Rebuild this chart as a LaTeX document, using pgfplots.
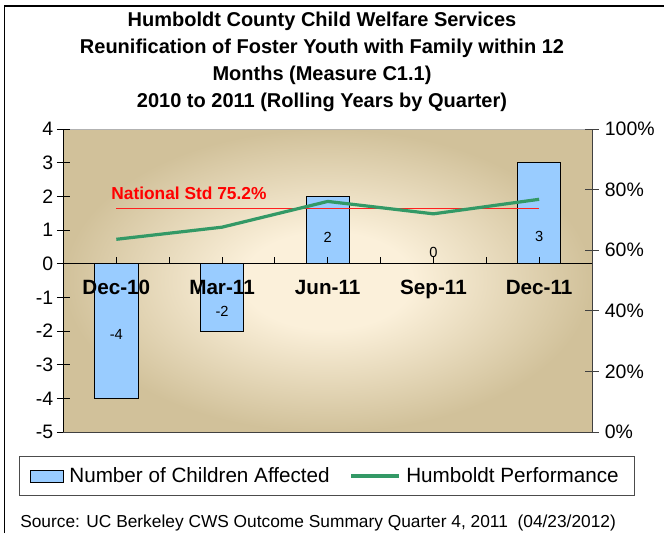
\documentclass[border=0pt]{standalone}
\usepackage{pgfplots}
\pgfplotsset{compat=1.18}
\usepackage{fontspec}
\setmainfont{Liberation Sans}
\definecolor{barblue}{HTML}{99CCFF}
\definecolor{humgreen}{HTML}{339966}
\definecolor{bgin}{HTML}{FBF0DA}
\definecolor{bgout}{HTML}{D1C19A}
\definecolor{axgray}{HTML}{404040}
\definecolor{stdred}{HTML}{FF2020}
\pgfdeclareradialshading{bgshade}{\pgfpoint{0bp}{0bp}}{color(0bp)=(bgin); color(8bp)=(bgin); color(25bp)=(bgout); color(50bp)=(bgout)}
\begin{document}
\begin{tikzpicture}
\path[use as bounding box] (0,0) rectangle (498pt,399.75pt);
\draw[black, line width=0.8pt] (3.4pt,0pt) -- (3.4pt,395.25pt) -- (498pt,395.25pt);
\node[align=center, font=\bfseries\fontsize{15}{20.25}\selectfont] at (241.5pt,353.5pt)
 {Humboldt County Child Welfare Services\\Reunification of Foster Youth with Family within 12\\Months (Measure C1.1)\\2010 to 2011 (Rolling Years by Quarter)};
\node[anchor=base west, font=\fontsize{13}{14}\selectfont, inner sep=0pt] at (15pt,4.5pt)
 {Source: UC Berkeley CWS Outcome Summary Quarter 4, 2011\ \ (04/23/2012)};
% primary axis: bars
\begin{axis}[
  at={(47.6pt,75.75pt)}, anchor=south west,
  scale only axis, width=396.4pt, height=227.25pt,
  xmin=-0.5, xmax=4.5, ymin=-5, ymax=4,
  axis on top,
  axis x line=middle, axis y line=left,
  axis line style={-, black, line width=0.7pt},
  hide obscured x ticks=false, hide obscured y ticks=false,
  ytick={-5,-4,...,4},
  ytick align=center,
  ytick style={black, line width=0.7pt, /pgfplots/major tick length=10pt},
  xtick={0.5,1.5,2.5,3.5}, xticklabels={},
  xtick align=inside,
  xtick style={black, line width=0.7pt, /pgfplots/major tick length=5pt},
  extra x ticks={0,1,2,3,4},
  extra x tick labels={Dec-10,Mar-11,Jun-11,Sep-11,Dec-11},
  extra x tick style={major tick length=0pt, xticklabel style={font=\bfseries\fontsize{15.5}{17}\selectfont, yshift=-9pt}},
  /pgf/number format/assume math mode=true,
  yticklabel style={font=\fontsize{14.6}{16}\selectfont, xshift=-2pt},
  axis background/.style={shading=bgshade, draw=gray!60},
  clip=false,
]
\addplot[ybar, bar width=0.41, fill=barblue, draw=black, line width=0.6pt]
  coordinates {(0,-4) (1,-2) (2,2) (3,0) (4,3)};
\addplot[only marks, mark=none, nodes near coords, point meta=explicit symbolic,
  nodes near coords align={center},
  every node near coord/.append style={anchor=center, font=\fontsize{11}{12}\selectfont}]
  coordinates {(0,-2.11)[-4] (1,-1.43)[-2] (2,0.78)[2] (3,0.33)[0] (4,0.80)[3]};
\end{axis}
% secondary axis: percentage line
\begin{axis}[
  at={(47.6pt,75.75pt)}, anchor=south west,
  scale only axis, width=396.4pt, height=227.25pt,
  xmin=-0.5, xmax=4.5, ymin=0, ymax=100,
  axis y line*=right, axis x line*=bottom,
  axis line style={-, axgray, line width=0.7pt},
  xtick=\empty,
  ytick={0,20,...,100},
  yticklabel={\pgfmathprintnumber{\tick}\%},
  ytick align=center,
  ytick style={axgray, line width=0.7pt, /pgfplots/major tick length=10pt},
  /pgf/number format/assume math mode=true,
  yticklabel style={font=\fontsize{14.6}{16}\selectfont, xshift=4pt},
  clip=false,
  legend columns=2,
  legend style={at={(0.4986,-0.1452)}, anchor=center, draw=black!70, line width=0.6pt,
    font=\fontsize{15.5}{17}\selectfont, inner xsep=8pt, inner ysep=6pt,
    nodes={inner xsep=4pt},
    /tikz/every even column/.append style={column sep=11pt}},
  legend cell align=left,
]
\addlegendimage{legend image code/.code={\draw[fill=barblue, draw=black, line width=0.6pt] (0pt,-4.5pt) rectangle (25pt,4.5pt);}}
\addlegendentry{Number of Children Affected}
\addplot[stdred, line width=0.8pt, forget plot] coordinates {(0,73.9) (4,73.9)};
\addplot[only marks, mark=none, forget plot, nodes near coords, point meta=explicit symbolic,
  nodes near coords align={center},
  every node near coord/.append style={anchor=center, text=red, font=\bfseries\fontsize{13}{14}\selectfont}]
  coordinates {(0.687,78.9)[National Std 75.2\%]};
\addplot[humgreen, line width=2.4pt,
  legend image code/.code={\draw[humgreen, line width=2.4pt] (0pt,0pt) -- (36pt,0pt);}]
  coordinates {(0,63.6) (1,67.6) (2,76.1) (3,72.0) (4,76.8)};
\addlegendentry{Humboldt Performance}
\end{axis}
\end{tikzpicture}
\end{document}
